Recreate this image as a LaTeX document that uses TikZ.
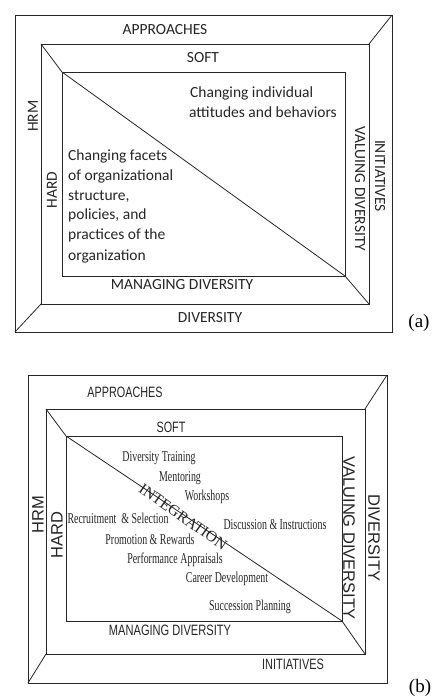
\documentclass[tikz,border=0pt]{standalone}
\usepackage{fontspec}
\setmainfont{Liberation Serif}
\newfontfamily\carl{Carlito}
\newfontfamily\lsans{Liberation Sans}
\begin{document}
\begin{tikzpicture}[x=1pt,y=-1pt,
  frame/.style={line width=0.8pt, draw=black!85},
  lblA/.style={font=\carl\fontsize{15.5}{18}\selectfont, inner sep=0, text=black!85},
  bodyA/.style={font=\carl\fontsize{15.5}{20}\selectfont, inner sep=0, anchor=base west, text=black!85},
  lblB/.style={font=\lsans\fontsize{15}{18}\selectfont, inner sep=0, text=black!85},
  rotB/.style={font=\lsans\fontsize{16.5}{18}\selectfont, inner sep=0, text=black!85},
  itemB/.style={font=\fontsize{15}{18}\selectfont, inner sep=0, text=black!85},
  tag/.style={font=\fontsize{19}{20}\selectfont, inner sep=0}]
\useasboundingbox (0,0) rectangle (435,699);
\fill[white] (0,0) rectangle (435,699);

% ---------- panel (a)
\coordinate (aO1) at (15,15);  \coordinate (aO2) at (392,15);
\coordinate (aO3) at (392,332); \coordinate (aO4) at (15,332);
\coordinate (aM1) at (41,44);  \coordinate (aM2) at (369,44);
\coordinate (aM3) at (369,304); \coordinate (aM4) at (41,304);
\coordinate (aI1) at (62,72);  \coordinate (aI2) at (345,72);
\coordinate (aI3) at (345,276); \coordinate (aI4) at (62,276);
\draw[frame] (aO1) -- (aO2) -- (aO3) -- (aO4) -- cycle;
\draw[frame] (aM1) -- (aM2) -- (aM3) -- (aM4) -- cycle;
\draw[frame] (aI1) -- (aI2) -- (aI3) -- (aI4) -- cycle;
\draw[frame] (aO2) -- (aM2);
\draw[frame] (aO4) -- (aM4);
\draw[frame] (aM1) -- (aI1) -- (aI3) -- (aM3);

\node[lblA] (aApp) at (165,30) {APPROACHES};
\node[lblA] (aSoft) at (203,58) {SOFT};
\node[lblA] (aMan) at (182,285) {MANAGING DIVERSITY};
\node[lblA] (aDiv) at (210,318) {DIVERSITY};
\node[lblA,rotate=90] (aHrm) at (33,116) {HRM};
\node[lblA,rotate=90] (aHard) at (52,190) {HARD};
\node[lblA,rotate=-90] (aIni) at (380,176) {INITIATIVES};
\node[lblA,rotate=-90] (aVal) at (360,189) {VALUING DIVERSITY};

\node[bodyA] (aS1) at (190,97) {Changing individual};
\node[bodyA] (aS2) at (189,117) {attitudes and behaviors};
\node[bodyA] (aH1) at (68,160) {Changing facets};
\node[bodyA] (aH2) at (68,180) {of organizational};
\node[bodyA] (aH3) at (68,200) {structure,};
\node[bodyA] (aH4) at (68,219) {policies, and};
\node[bodyA] (aH5) at (68,239) {practices of the};
\node[bodyA] (aH6) at (68,260) {organization};
\node[tag] (aTag) at (419,323) {(a)};

% ---------- panel (b)
\coordinate (bO1) at (28,375);  \coordinate (bO2) at (387,375);
\coordinate (bO3) at (387,683); \coordinate (bO4) at (28,683);
\coordinate (bM1) at (46,409);  \coordinate (bM2) at (365,409);
\coordinate (bM3) at (365,654); \coordinate (bM4) at (46,654);
\coordinate (bI1) at (66,436);  \coordinate (bI2) at (342,436);
\coordinate (bI3) at (342,621); \coordinate (bI4) at (66,621);
\draw[frame] (bO1) -- (bO2) -- (bO3) -- (bO4) -- cycle;
\draw[frame] (bM1) -- (bM2) -- (bM3) -- (bM4) -- cycle;
\draw[frame] (bI1) -- (bI2) -- (bI3) -- (bI4) -- cycle;
\draw[frame] (bO2) -- (bM2);
\draw[frame] (bO4) -- (bM4);
\draw[frame] (bM1) -- (bI1) -- (bI3) -- (bM3);

\node[lblB] (bApp) at (125,392) {\scalebox{0.72}[1]{APPROACHES}};
\node[lblB] (bSoft) at (171,427) {\scalebox{0.72}[1]{SOFT}};
\node[lblB] (bMan) at (170,630) {\scalebox{0.74}[1]{MANAGING DIVERSITY}};
\node[lblB] (bIni) at (293,664) {\scalebox{0.73}[1]{INITIATIVES}};
\node[rotB,rotate=90] (bHrm) at (38,515) {HRM};
\node[rotB,rotate=90] (bHard) at (57,535) {HARD};
\node[rotB,rotate=-90] (bVal) at (349,538) {VALUING DIVERSITY};
\node[rotB,rotate=-90] (bDiv) at (374,538) {DIVERSITY};

\node[itemB] (b1) at (159,458) {\scalebox{0.66}[1]{Diversity Training}};
\node[itemB] (b2) at (180,478) {\scalebox{0.66}[1]{Mentoring}};
\node[itemB] (b3) at (207,497) {\scalebox{0.66}[1]{Workshops}};
\node[itemB] (b4) at (118,518) {\scalebox{0.66}[1]{Recruitment \ \& Selection}};
\node[itemB] (b5) at (275,525) {\scalebox{0.66}[1]{Discussion \& Instructions}};
\node[itemB] (b6) at (150,539) {\scalebox{0.66}[1]{Promotion \& Rewards}};
\node[itemB] (b7) at (175,560) {\scalebox{0.66}[1]{Performance Appraisals}};
\node[itemB] (b8) at (227,579) {\scalebox{0.66}[1]{Career Development}};
\node[itemB] (b9) at (250,607) {\scalebox{0.66}[1]{Succession Planning}};
\node[font=\fontsize{15.5}{18}\selectfont, inner sep=0, rotate=-35, text=black!85] (bInt) at (183,517) {INTEGRATION};
\node[tag] (bTag) at (420,688) {(b)};
\end{tikzpicture}
\end{document}
